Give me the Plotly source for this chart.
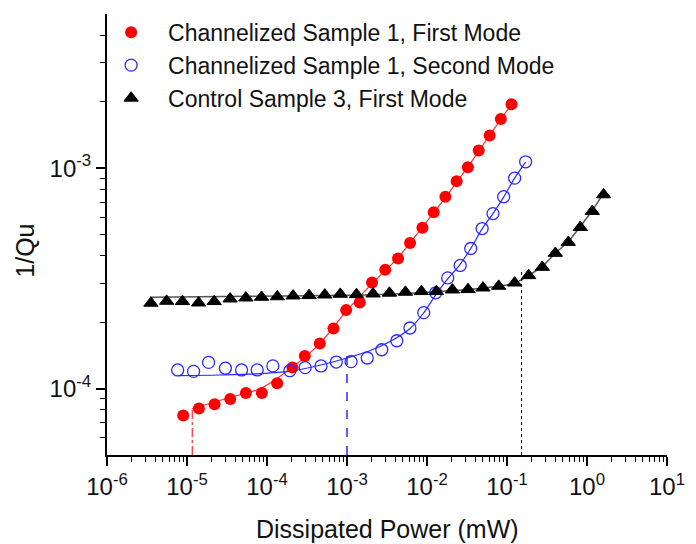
import plotly.graph_objects as go

# ---- data ----
red_x = [8.97e-6, 1.41e-5, 2.21e-5, 3.47e-5, 5.45e-5, 8.63e-5, 1.34e-4, 2.08e-4, 2.97e-4, 4.57e-4,
         6.78e-4, 9.75e-4, 1.445e-3, 2.056e-3, 3.006e-3, 4.345e-3, 6.14e-3, 8.77e-3, 1.213e-2, 1.698e-2,
         2.35e-2, 3.24e-2, 4.43e-2, 6.07e-2, 8.37e-2, 0.1138]
red_y = [7.55e-5, 8.12e-5, 8.49e-5, 8.98e-5, 9.56e-5, 9.56e-5, 1.057e-4, 1.248e-4, 1.406e-4, 1.60e-4,
         1.875e-4, 2.27e-4, 2.457e-4, 3.03e-4, 3.456e-4, 3.896e-4, 4.576e-4, 5.37e-4, 6.31e-4, 7.42e-4,
         8.73e-4, 1.010e-3, 1.203e-3, 1.407e-3, 1.670e-3, 1.948e-3]

blue_x = [7.64e-6, 1.21e-5, 1.862e-5, 3.02e-5, 4.81e-5, 7.54e-5, 1.183e-4, 1.932e-4, 2.997e-4, 4.73e-4,
          7.35e-4, 1.125e-3, 1.792e-3, 2.72e-3, 4.19e-3, 6.12e-3, 9.10e-3, 1.285e-2, 1.815e-2, 2.60e-2,
          3.52e-2, 4.89e-2, 6.68e-2, 9.08e-2, 0.1246, 0.1709]
blue_y = [1.215e-4, 1.197e-4, 1.315e-4, 1.238e-4, 1.215e-4, 1.215e-4, 1.268e-4, 1.206e-4, 1.245e-4, 1.267e-4,
          1.320e-4, 1.325e-4, 1.377e-4, 1.501e-4, 1.649e-4, 1.883e-4, 2.212e-4, 2.72e-4, 3.178e-4, 3.62e-4,
          4.32e-4, 5.32e-4, 6.22e-4, 7.42e-4, 9.01e-4, 1.068e-3]

black_x = [3.54e-6, 5.57e-6, 8.77e-6, 1.397e-5, 2.188e-5, 3.457e-5, 5.445e-5, 8.55e-5, 1.347e-4, 2.121e-4,
           3.352e-4, 5.28e-4, 8.24e-4, 1.314e-3, 2.117e-3, 3.393e-3, 5.375e-3, 8.517e-3, 1.311e-2, 2.077e-2,
           3.254e-2, 5.014e-2, 7.865e-2, 0.1246, 0.1864, 0.2763, 0.4017, 0.5838, 0.824, 1.164, 1.611]
black_y = [2.442e-4, 2.493e-4, 2.486e-4, 2.449e-4, 2.486e-4, 2.553e-4, 2.580e-4, 2.599e-4, 2.613e-4, 2.635e-4,
           2.646e-4, 2.662e-4, 2.682e-4, 2.673e-4, 2.691e-4, 2.713e-4, 2.739e-4, 2.759e-4, 2.759e-4, 2.805e-4,
           2.817e-4, 2.864e-4, 2.916e-4, 3.017e-4, 3.258e-4, 3.554e-4, 4.112e-4, 4.61e-4, 5.39e-4, 6.37e-4, 7.58e-4]

# fitted curves
red_fit_x = [1.162e-5, 3.437e-5, 8.62e-5, 2.104e-4, 4.57e-4, 9.66e-4, 2.04e-3, 4.31e-3, 8.59e-3,
             1.713e-2, 3.225e-2, 6.07e-2, 0.1143]
red_fit_y = [8.12e-5, 9.11e-5, 1.010e-4, 1.257e-4, 1.60e-4, 2.231e-4, 2.986e-4, 3.917e-4, 5.35e-4,
             7.39e-4, 1.010e-3, 1.410e-3, 1.948e-3]

blue_fit_x = [7.64e-6, 2.578e-5, 8.14e-5, 1.93e-4, 4.57e-4, 1.023e-3, 1.926e-3, 3.42e-3, 6.08e-3, 9.10e-3,
              1.285e-2, 1.815e-2, 2.563e-2, 3.52e-2, 4.89e-2, 6.68e-2, 9.08e-2, 0.1246, 0.1709]
blue_fit_y = [1.145e-4, 1.153e-4, 1.169e-4, 1.200e-4, 1.277e-4, 1.381e-4, 1.486e-4, 1.632e-4, 1.868e-4, 2.207e-4,
              2.662e-4, 3.145e-4, 3.64e-4, 4.32e-4, 5.30e-4, 6.22e-4, 7.39e-4, 9.01e-4, 1.065e-3]

black_fit_x = [3.44e-6, 6.11e-5, 1.083e-3, 4.56e-3, 1.922e-2, 6.07e-2, 0.1246, 0.1918, 0.2788, 0.4051,
               0.5888, 0.8313, 1.174, 1.611]
black_fit_y = [2.594e-4, 2.622e-4, 2.650e-4, 2.691e-4, 2.776e-4, 2.879e-4, 3.017e-4, 3.279e-4, 3.602e-4, 4.124e-4,
               4.673e-4, 5.463e-4, 6.457e-4, 7.70e-4]

# vertical drop lines: (x, top y)
red_drop = (1.162e-5, 8.12e-5)
blue_drop = (1.0e-3, 1.44e-4)
black_drop = (0.152, 3.49e-4)

names = ["Channelized Sample 1, First Mode",
         "Channelized Sample 1, Second Mode",
         "Control Sample 3, First Mode"]

x_tickvals = [1e-6, 1e-5, 1e-4, 1e-3, 1e-2, 1e-1, 1e0, 1e1]
x_ticktext = ["10<sup>-6</sup>", "10<sup>-5</sup>", "10<sup>-4</sup>", "10<sup>-3</sup>",
              "10<sup>-2</sup>", "10<sup>-1</sup>", "10<sup>0</sup>", "10<sup>1</sup>"]
y_tickvals = [1e-4, 1e-3]
y_ticktext = ["10<sup>-4</sup>", "10<sup>-3</sup>"]

Y_MIN, Y_MAX = 5e-5, 5e-3

FONT = "Arial, Liberation Sans, sans-serif"
RED = "#ff0000"
BLUE = "#2a2aff"

fig = go.Figure()

# fit lines
fig.add_trace(go.Scatter(x=red_fit_x, y=red_fit_y, mode="lines", line=dict(color="#ff3030", width=1.2, shape="spline"),
                         showlegend=False, hoverinfo="skip"))
fig.add_trace(go.Scatter(x=blue_fit_x, y=blue_fit_y, mode="lines", line=dict(color=BLUE, width=1.2, shape="spline"),
                         showlegend=False, hoverinfo="skip"))
fig.add_trace(go.Scatter(x=black_fit_x, y=black_fit_y, mode="lines", line=dict(color="#555555", width=1.5, shape="spline"),
                         showlegend=False, hoverinfo="skip"))

# drop lines
fig.add_trace(go.Scatter(x=[red_drop[0], red_drop[0]], y=[Y_MIN, red_drop[1]], mode="lines",
                         line=dict(color=RED, width=1, dash="dashdot"), showlegend=False, hoverinfo="skip"))
fig.add_trace(go.Scatter(x=[blue_drop[0], blue_drop[0]], y=[Y_MIN, blue_drop[1]], mode="lines",
                         line=dict(color=BLUE, width=1.5, dash="dash"), showlegend=False, hoverinfo="skip"))
fig.add_trace(go.Scatter(x=[black_drop[0], black_drop[0]], y=[Y_MIN, black_drop[1]], mode="lines",
                         line=dict(color="black", width=1, dash="dot"), showlegend=False, hoverinfo="skip"))

# data markers
fig.add_trace(go.Scatter(x=red_x, y=red_y, mode="markers", name=names[0],
                         marker=dict(symbol="circle", size=12, color=RED)))
fig.add_trace(go.Scatter(x=blue_x, y=blue_y, mode="markers", name=names[1],
                         marker=dict(symbol="circle-open", size=12, color=BLUE, line=dict(width=1.3, color=BLUE))))
fig.add_trace(go.Scatter(x=black_x, y=black_y, mode="markers", name=names[2],
                         marker=dict(symbol="triangle-up", size=12.5, color="black", line=dict(width=1, color="black"))))

minor_x = [k * 10.0 ** d for d in range(-6, 1) for k in range(2, 10)]
minor_y = [k * 10.0 ** d for d in range(-5, -2) for k in range(2, 10) if Y_MIN < k * 10.0 ** d < Y_MAX]

axis_common = dict(
    type="log", showgrid=False, zeroline=False, showline=True, linecolor="black", linewidth=2,
    ticks="outside", ticklen=9, tickwidth=1.5, tickcolor="black", mirror=False,
    tickfont=dict(family=FONT, size=24, color="#111111"),
)

fig.update_xaxes(**axis_common, range=[-6, 1], tickmode="array", tickvals=x_tickvals, ticktext=x_ticktext,
                 minor=dict(tickmode="array", tickvals=minor_x, ticks="outside", ticklen=5, tickwidth=1.3,
                            tickcolor="black", showgrid=False))
fig.update_yaxes(**axis_common, range=[-4.30103, -2.30103], tickmode="array", tickvals=y_tickvals, ticktext=y_ticktext,
                 minor=dict(tickmode="array", tickvals=minor_y, ticks="outside", ticklen=5, tickwidth=1.3,
                            tickcolor="black", showgrid=False))

fig.add_annotation(text="Dissipated Power (mW)", xref="paper", yref="paper", x=0.5, y=-0.167,
                   xanchor="center", yanchor="middle", showarrow=False,
                   font=dict(family=FONT, size=25, color="#111111"))
fig.add_annotation(text="1/Qu", xref="paper", yref="paper", x=-0.148, y=0.4635, textangle=-90,
                   xanchor="center", yanchor="middle", showarrow=False,
                   font=dict(family=FONT, size=25, color="#111111"))

fig.update_layout(
    width=696, height=544,
    margin=dict(l=107, r=28.5, t=12.7, b=89),
    paper_bgcolor="white", plot_bgcolor="white",
    showlegend=True,
    legend=dict(x=-0.023, y=1.005, xanchor="left", yanchor="top", bgcolor="rgba(0,0,0,0)",
                itemwidth=64, font=dict(family=FONT, size=23, color="#111111"),
                tracegroupgap=0),
)

fig.write_html("out.html")
